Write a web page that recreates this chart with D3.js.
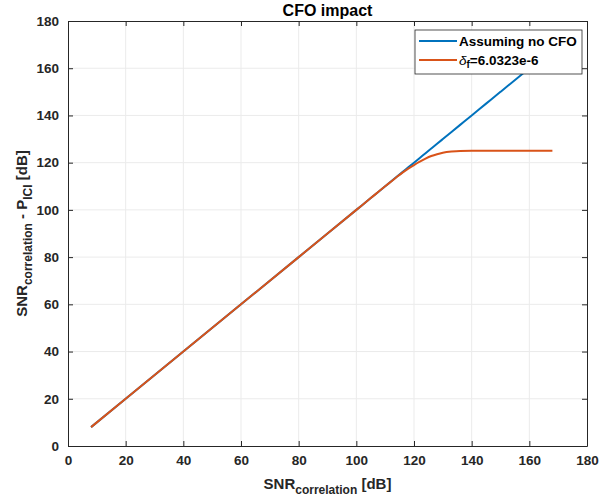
<!DOCTYPE html>
<html><head><meta charset="utf-8">
<script src="https://cdn.jsdelivr.net/npm/d3@7"></script>
<style>body{margin:0;background:#fff;} text{font-family:"Liberation Sans",Arial,sans-serif;}</style>
</head><body>
<svg id="c" width="600" height="501"></svg>
<script>
const xTicks = [0,20,40,60,80,100,120,140,160,180];
const yTicks = [0,20,40,60,80,100,120,140,160,180];
const snrX = [8,20,40,60,80,100,105,110,112,114,116,118,120,122,124,126,128,130,133,136,140,145,150,160,168];
const noCFO = [8,20,40,60,80,100,105,110,112,114,116,118,120,122,124,126,128,130,133,136,140,145,150,160,168];
const withCFO = [8,20,40,60,80,100,105,110,111.95,113.9,115.8,117.5,119.0,120.4,121.7,122.8,123.6,124.2,124.7,124.95,125.0,125.0,125.0,125.0,125.0];
const seriesNames = ["Assuming no CFO", "δf=6.0323e-6"];

const svg = d3.select("#c");
const m = {l:68, r:587, t:21, b:446};
const x = d3.scaleLinear().domain([0,180]).range([m.l,m.r]);
const y = d3.scaleLinear().domain([0,180]).range([m.b,m.t]);

svg.append("rect").attr("x",m.l).attr("y",m.t).attr("width",m.r-m.l).attr("height",m.b-m.t).attr("fill","#fff");
// grid
svg.append("g").selectAll("line").data(xTicks.slice(1,-1)).join("line")
  .attr("x1",d=>x(d)).attr("x2",d=>x(d)).attr("y1",m.t).attr("y2",m.b).attr("stroke","#ebebeb").attr("stroke-width",1);
svg.append("g").selectAll("line").data(yTicks.slice(1,-1)).join("line")
  .attr("y1",d=>y(d)).attr("y2",d=>y(d)).attr("x1",m.l).attr("x2",m.r).attr("stroke","#ebebeb").attr("stroke-width",1);

const axStyle = g => {
  g.selectAll("path").attr("stroke","#262626");
  g.selectAll("line").attr("stroke","#262626");
  g.selectAll("text").attr("fill","#262626").style("font-size","13.5px").style("font-weight","bold").style("font-family","Liberation Sans, Arial, sans-serif");
};
svg.append("g").attr("transform",`translate(0,${m.b})`).call(d3.axisBottom(x).tickValues(xTicks).tickSize(-5).tickSizeOuter(0).tickPadding(9)).call(axStyle);
svg.append("g").attr("transform",`translate(0,${m.t})`).call(d3.axisTop(x).tickValues(xTicks).tickSize(-5).tickSizeOuter(0).tickFormat("")).call(axStyle);
svg.append("g").attr("transform",`translate(${m.l},0)`).call(d3.axisLeft(y).tickValues(yTicks).tickSize(-5).tickSizeOuter(0).tickPadding(9)).call(axStyle);
svg.append("g").attr("transform",`translate(${m.r},0)`).call(d3.axisRight(y).tickValues(yTicks).tickSize(-5).tickSizeOuter(0).tickFormat("")).call(axStyle);

const line = d3.line().x(d=>x(d[0])).y(d=>y(d[1])).curve(d3.curveMonotoneX);
svg.append("path").datum(snrX.map((v,i)=>[v,noCFO[i]])).attr("d",line).attr("fill","none").attr("stroke","#0072BD").attr("stroke-width",2);
svg.append("path").datum(snrX.map((v,i)=>[v,withCFO[i]])).attr("d",line).attr("fill","none").attr("stroke","#D95319").attr("stroke-width",2);

// title
svg.append("text").attr("x",(m.l+m.r)/2).attr("y",16).attr("text-anchor","middle").style("font-size","16px").style("font-weight","bold").attr("fill","#000").text("CFO impact");

// x label
const xl = svg.append("text").attr("x",(m.l+m.r)/2).attr("y",489).attr("text-anchor","middle").style("font-size","15px").style("font-weight","bold").attr("fill","#262626");
xl.append("tspan").text("SNR");
xl.append("tspan").attr("dy",5).style("font-size","12px").text("correlation");
xl.append("tspan").attr("dy",-5).text(" [dB]");

// y label
const yl = svg.append("text").attr("transform",`translate(27,${(m.t+m.b)/2}) rotate(-90)`).attr("text-anchor","middle").style("font-size","15px").style("font-weight","bold").attr("fill","#262626");
yl.append("tspan").text("SNR");
yl.append("tspan").attr("dy",5).style("font-size","12px").text("correlation");
yl.append("tspan").attr("dy",-5).text(" - P");
yl.append("tspan").attr("dy",5).style("font-size","12px").text("ICI");
yl.append("tspan").attr("dy",-5).text(" [dB]");

// legend
const lg = svg.append("g");
lg.append("rect").attr("x",415).attr("y",30).attr("width",167).attr("height",44).attr("fill","#fff").attr("stroke","#262626").attr("stroke-width",0.8);
const colors = ["#0072BD","#D95319"];
[0,1].forEach(i=>{
  const yy = 41 + i*19;
  lg.append("line").attr("x1",419).attr("x2",457).attr("y1",yy).attr("y2",yy).attr("stroke",colors[i]).attr("stroke-width",2);
  const t = lg.append("text").attr("x",459).attr("y",yy+5).style("font-size","13.5px").style("font-weight","bold").attr("fill","#000");
  if(i===0){ t.text(seriesNames[0]); }
  else {
    t.append("tspan").style("font-style","italic").style("font-weight","normal").text("δ");
    t.append("tspan").attr("dy",3).style("font-size","10px").text("f");
    t.append("tspan").attr("dy",-3).text("=6.0323e-6");
  }
});
</script>
</body></html>
